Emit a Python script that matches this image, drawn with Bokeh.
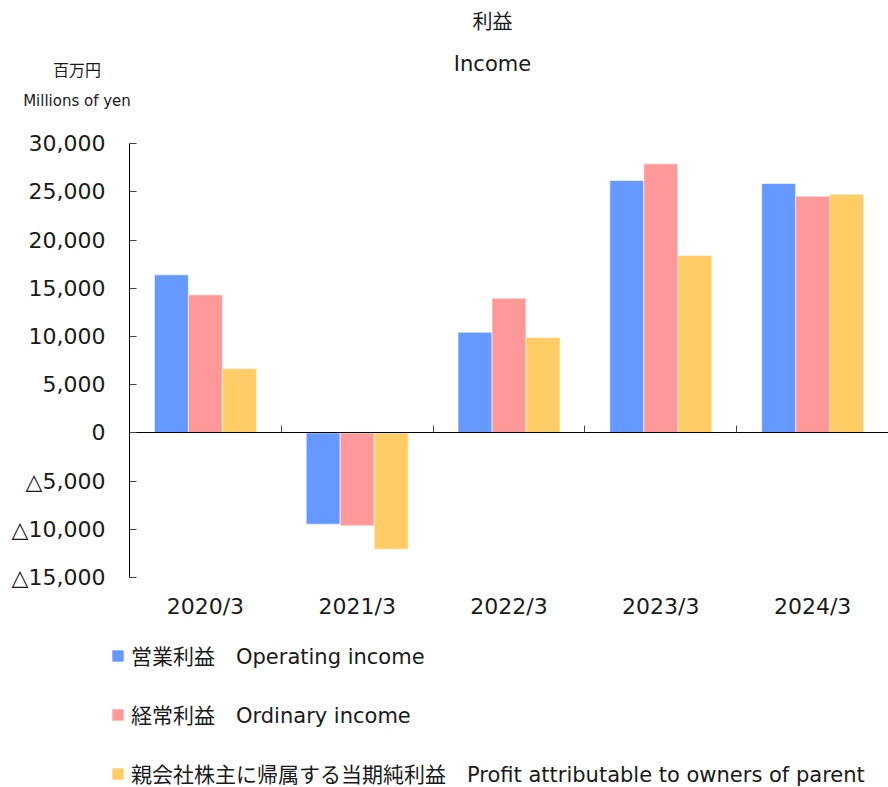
import numpy as np
from bokeh.plotting import figure
from bokeh.models import (Range1d, LinearAxis, FixedTicker, Label, Legend,
                          LegendItem, ColumnDataSource)
from bokeh.transform import dodge
from bokeh.embed import file_html
from bokeh.resources import INLINE

# ---- data -------------------------------------------------------------
categories = ["2020/3", "2021/3", "2022/3", "2023/3", "2024/3"]
operating_income = [16400, -9470, 10450, 26190, 25880]
ordinary_income = [14330, -9640, 13980, 27920, 24560]
profit_parent = [6680, -12070, 9900, 18410, 24770]

series_names = [
    "営業利益\u3000Operating income",
    "経常利益\u3000Ordinary income",
    "親会社株主に帰属する当期純利益\u3000Profit attributable to owners of parent",
]
series_colors = ["#6699FF", "#FF9999", "#FFCC66"]

y_min, y_max = -15000, 30000
y_ticks = [-15000, -10000, -5000, 0, 5000, 10000, 15000, 20000, 25000, 30000]
y_tick_labels = ["△15,000", "△10,000", "△5,000", "0", "5,000", "10,000",
                 "15,000", "20,000", "25,000", "30,000"]

title_ja = "利益"
title_en = "Income"
unit_ja = "百万円"
unit_en = "Millions of yen"

# ---- layout (pixels) --------------------------------------------------
W, H = 888, 787
PL, PR = 129, 888          # plot area left / right
PT, PB = 143.3, 577.0      # y of y_max / y_min

n = len(categories)
ux = (PR - PL) / n                       # px per category
uy = (PB - PT) / (y_max - y_min)         # px per yen-million
x_range = Range1d(-PL / ux, n + (W - PR) / ux)
y_range = Range1d(y_min - (H - PB) / uy, y_max + PT / uy)

xs = np.arange(n) + 0.5
source = ColumnDataSource(dict(x=xs, op=operating_income,
                               ord=ordinary_income, prof=profit_parent))

p = figure(width=W, height=H, output_backend="svg", toolbar_location=None,
           title=None, x_range=x_range, y_range=y_range,
           x_axis_location=None, y_axis_location=None,
           min_border=0)
p.outline_line_color = None
p.background_fill_color = "white"
p.border_fill_color = "white"
for g in p.grid:
    g.visible = False

TXT = "#1a1a1a"

yaxis = LinearAxis(fixed_location=0, bounds=(y_min, y_max),
                   ticker=FixedTicker(ticks=y_ticks),
                   major_label_overrides=dict(zip(y_ticks, y_tick_labels)),
                   major_tick_in=7, major_tick_out=0,
                   minor_tick_line_color=None,
                   major_label_standoff=24,
                   axis_line_color="black", major_tick_line_color="#444444",
                   major_label_text_font="DejaVu Sans",
                   major_label_text_font_size="22px",
                   major_label_text_color=TXT)
p.add_layout(yaxis, "left")

zaxis = LinearAxis(fixed_location=0, bounds=(0, n),
                   ticker=FixedTicker(ticks=list(range(n + 1))),
                   major_tick_in=7, major_tick_out=0,
                   minor_tick_line_color=None,
                   axis_line_color="black", major_tick_line_color="#444444",
                   major_label_text_color=None)
p.add_layout(zaxis, "below")

xlab = LinearAxis(fixed_location=y_min,
                  ticker=FixedTicker(ticks=list(xs)),
                  major_label_overrides=dict(zip([float(v) for v in xs], categories)),
                  axis_line_color=None, major_tick_line_color=None,
                  minor_tick_line_color=None, major_tick_in=0, major_tick_out=0,
                  major_label_standoff=16,
                  major_label_text_font="DejaVu Sans",
                  major_label_text_font_size="22px",
                  major_label_text_color=TXT)
p.add_layout(xlab, "below")

bar_w = 0.224
offsets = [-bar_w, 0.0, bar_w]
cols = ["op", "ord", "prof"]
renderers = []
for col, off, color in zip(cols, offsets, series_colors):
    r = p.vbar(x=dodge("x", off), top=col, bottom=0, width=bar_w,
               source=source, fill_color=color, line_color="white",
               line_alpha=0.6, line_width=1)
    renderers.append(r)

legend = Legend(items=[LegendItem(label=nm, renderers=[r])
                       for nm, r in zip(series_names, renderers)],
                location=(110, -1), orientation="vertical",
                glyph_width=15, glyph_height=15, label_standoff=6,
                spacing=29, padding=0, margin=0,
                border_line_color=None, background_fill_alpha=0,
                label_text_font="DejaVu Sans, Noto Sans CJK JP",
                label_text_font_size="21px", label_text_color=TXT,
                label_height=20)
p.add_layout(legend)

def lab(x, y, text, font, size):
    p.add_layout(Label(x=x, y=H - y, x_units="screen", y_units="screen", text=text,
                       text_align="center", text_baseline="middle",
                       text_font=font, text_font_size=size, text_color=TXT))

lab(492, 20, title_ja, "Noto Sans CJK JP", "20px")
lab(492, 63, title_en, "DejaVu Sans", "21px")
lab(76.5, 68, unit_ja, "Noto Sans CJK JP", "16px")
lab(76.5, 100, unit_en, "DejaVu Sans", "15px")

open("out.html", "w").write(file_html(p, INLINE))
